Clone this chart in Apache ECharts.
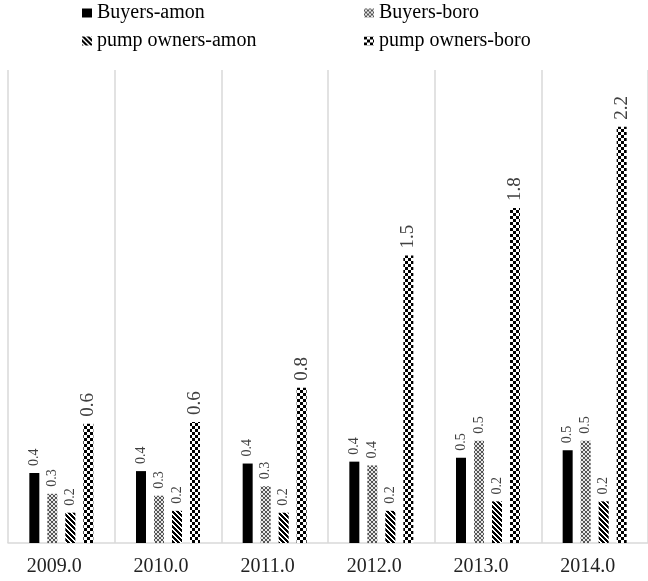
<!DOCTYPE html>
<html>
<head>
<meta charset="utf-8">
<script src="https://cdn.jsdelivr.net/npm/echarts@6/dist/echarts.min.js"></script>
<style>
html,body{margin:0;padding:0;background:#fff;}
#chart{width:648px;height:581px;}
</style>
</head>
<body>
<div id="chart"></div>
<script>
const categories = ['2009.0', '2010.0', '2011.0', '2012.0', '2013.0', '2014.0'];
const buyersAmon = [0.37, 0.38, 0.42, 0.43, 0.45, 0.49];
const buyersBoro = [0.26, 0.25, 0.30, 0.41, 0.54, 0.54];
const pumpAmon = [0.16, 0.17, 0.16, 0.17, 0.22, 0.22];
const pumpBoro = [0.63, 0.64, 0.82, 1.52, 1.77, 2.2];
const seriesNames = ['Buyers-amon', 'Buyers-boro', 'pump owners-amon', 'pump owners-boro'];

function makePattern(size, fn, bg) {
  const c = document.createElement('canvas');
  c.width = size; c.height = size;
  const ctx = c.getContext('2d');
  ctx.fillStyle = bg || '#ffffff';
  ctx.fillRect(0, 0, size, size);
  for (let y = 0; y < size; y++) {
    for (let x = 0; x < size; x++) {
      const col = fn(x, y);
      if (col) { ctx.fillStyle = col; ctx.fillRect(x, y, 1, 1); }
    }
  }
  return { image: c, repeat: 'repeat' };
}

const boroTile = ['.##.', '#..#', '#..#', '.##.'];
const boroPattern = makePattern(4, (x, y) => boroTile[y][x] === '#' ? '#555555' : null, '#e6e6e6');
const stripePattern = makePattern(5, (x, y) => (((x - y) % 5) + 5) % 5 < 3 ? '#000000' : null);
const checkerPattern = makePattern(6, (x, y) => ((Math.floor(x / 3) + Math.floor(y / 3)) % 2 === 0) ? '#000000' : null);

const serif = 'Liberation Serif, Times New Roman, serif';

function mkLabel(size) {
  return {
    show: true,
    position: 'top',
    rotate: 90,
    align: 'left',
    verticalAlign: 'middle',
    distance: 7,
    fontFamily: serif,
    fontSize: size,
    color: '#404040',
    formatter: p => p.value.toFixed(1)
  };
}

const fills = ['#000000', boroPattern, stripePattern, checkerPattern];
const dataSets = [buyersAmon, buyersBoro, pumpAmon, pumpBoro];

const series = seriesNames.map((name, i) => ({
  name: name,
  type: 'bar',
  barWidth: 10,
  barGap: '80%',
  data: dataSets[i],
  itemStyle: { color: fills[i] },
  label: mkLabel(i === 3 ? 19 : 14)
}));

const legendText = { fontFamily: serif, fontSize: 20, color: '#000', lineHeight: 20 };

const chart = echarts.init(document.getElementById('chart'), null, { renderer: 'canvas' });
chart.setOption({
  animation: false,
  backgroundColor: '#ffffff',
  legend: [
    {
      orient: 'vertical', left: 82, top: 3,
      data: ['Buyers-amon', 'pump owners-amon'],
      icon: 'rect', itemWidth: 10, itemHeight: 9, itemGap: 8, itemTextGap: 5,
      textStyle: legendText, padding: 0
    },
    {
      orient: 'vertical', left: 364, top: 3,
      data: ['Buyers-boro', 'pump owners-boro'],
      icon: 'rect', itemWidth: 10, itemHeight: 9, itemGap: 8, itemTextGap: 5,
      textStyle: legendText, padding: 0
    }
  ],
  grid: { left: 8, right: -2, top: 70, bottom: 38, containLabel: false },
  xAxis: {
    type: 'category',
    data: categories,
    axisTick: { show: false },
    axisLine: { show: true, lineStyle: { color: '#d9d9d9', width: 1.5 } },
    splitLine: { show: true, lineStyle: { color: '#d9d9d9', width: 1.5 } },
    axisLabel: { fontFamily: serif, fontSize: 20, color: '#222', margin: 14, padding: [0, 14, 0, 0] }
  },
  yAxis: {
    type: 'value',
    min: 0, max: 2.5,
    show: false,
    splitLine: { show: false }
  },
  series: series
});
</script>
</body>
</html>
